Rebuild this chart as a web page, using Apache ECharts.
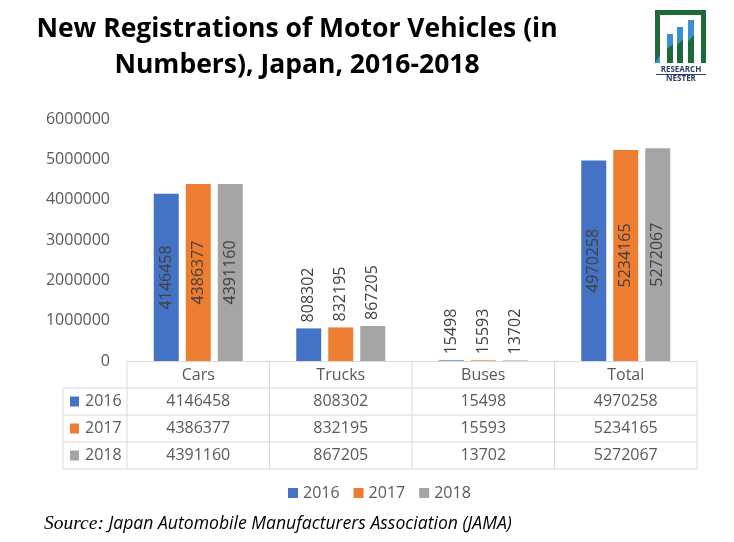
<!DOCTYPE html>
<html><head><meta charset="utf-8">
<script src="https://cdn.jsdelivr.net/npm/echarts@6/dist/echarts.min.js"></script>
<style>html,body{margin:0;padding:0;background:#fff}#c{width:734px;height:542px}</style>
</head><body><div id="c"></div>
<script>
// ---- data ----
const categories = ['Cars', 'Trucks', 'Buses', 'Total'];
const years = ['2016', '2017', '2018'];
const v2016 = [4146458, 808302, 15498, 4970258];
const v2017 = [4386377, 832195, 15593, 5234165];
const v2018 = [4391160, 867205, 13702, 5272067];
const yearValues = [v2016, v2017, v2018];
const yMin = 0, yMax = 6000000, yStep = 1000000;
const titleLines = ['New Registrations of Motor Vehicles (in', 'Numbers), Japan, 2016-2018'];
const sourceLabel = 'Source:';
const sourceText = ' Japan Automobile Manufacturers Association (JAMA)';
const logoTop = 'RESEARCH', logoBottom = 'NESTER';

// ---- style ----
const colors = ['#4472C4', '#ED7D31', '#A5A5A5'];
const FONT = "'Open Sans', 'Liberation Sans', sans-serif";
const TXT = '#595959';
const LINE = '#d9d9d9';
const insideCats = [0, 3];

const chart = echarts.init(document.getElementById('c'), null, { renderer: 'canvas' });

const option = {
  animation: false,
  backgroundColor: '#fff',
  grid: { left: 127, right: 37, top: 119, bottom: 181, containLabel: false },
  legend: {
    data: years, left: 283, top: 480, icon: 'rect', itemWidth: 10, itemHeight: 10, itemGap: 14,
    textStyle: { color: TXT, fontSize: 16, fontFamily: FONT }
  },
  xAxis: {
    type: 'category', data: categories,
    axisLine: { show: true, lineStyle: { color: LINE, width: 1 } },
    axisTick: { show: false },
    axisLabel: { color: TXT, fontSize: 16, fontFamily: FONT, margin: 6 }
  },
  yAxis: {
    type: 'value', min: yMin, max: yMax, interval: yStep,
    axisLine: { show: false }, axisTick: { show: false }, splitLine: { show: false },
    axisLabel: { color: TXT, fontSize: 16, fontFamily: FONT, margin: 17, formatter: v => String(v) }
  },
  series: years.map((y, i) => ({
    name: y, type: 'bar', barWidth: 25, barGap: '28%',
    itemStyle: { color: colors[i] },
    label: { show: true, rotate: 90, position: 'inside', color: '#404040', fontSize: 16, fontFamily: FONT },
    data: yearValues[i].map((v, j) => insideCats.includes(j) ? v : {
      value: v, label: { position: 'top', align: 'left', verticalAlign: 'middle', distance: 6 }
    })
  }))
};
chart.setOption(option);

// ---- table, title, logo, source ----
const cx = categories.map(c => chart.convertToPixel({ xAxisIndex: 0 }, c));
const half = (cx[1] - cx[0]) / 2;
const y0 = chart.convertToPixel({ yAxisIndex: 0 }, 0);
const rowH = 27;
const tLeft = 63;
const tRight = cx[cx.length - 1] + half;
const g = [];
const line = (x1, y1, x2, y2) => g.push({ type: 'line', silent: true, shape: { x1, y1, x2, y2 }, style: { stroke: LINE, lineWidth: 1 } });
for (let r = 1; r <= years.length + 1; r++) line(tLeft, y0 + r * rowH, tRight, y0 + r * rowH);
const bottomY = y0 + (years.length + 1) * rowH;
line(tLeft, y0 + rowH, tLeft, bottomY);
for (let k = 0; k <= categories.length; k++) {
  const x = cx[0] - half + k * 2 * half;
  line(x, y0, x, bottomY);
}
years.forEach((y, i) => {
  const cy = y0 + (i + 1.5) * rowH;
  g.push({ type: 'rect', silent: true, shape: { x: tLeft + 7, y: cy - 5, width: 9, height: 10 }, style: { fill: colors[i] } });
  g.push({ type: 'text', silent: true, x: tLeft + 22, y: cy, style: { text: y, fill: TXT, fontSize: 16, fontFamily: FONT, align: 'left', verticalAlign: 'middle' } });
  yearValues[i].forEach((v, j) => {
    g.push({ type: 'text', silent: true, x: cx[j], y: cy, style: { text: String(v), fill: TXT, fontSize: 16, fontFamily: FONT, align: 'center', verticalAlign: 'middle' } });
  });
});
// title
g.push({ type: 'text', silent: true, x: 297, y: 11, style: {
  text: titleLines.join('\n'), fill: '#000', fontSize: 26.5, fontWeight: 'bold', fontFamily: FONT,
  lineHeight: 36, align: 'center', verticalAlign: 'top' } });
// source
g.push({ type: 'text', silent: true, x: 44, y: 524, style: {
  text: '{a|' + sourceLabel + '}{b|' + sourceText + '}', verticalAlign: 'middle', align: 'left',
  rich: {
    a: { fontFamily: "'Liberation Serif', serif", fontStyle: 'italic', fontSize: 19.5, fill: '#000' },
    b: { fontFamily: FONT, fontStyle: 'italic', fontSize: 17.6, fill: '#000' }
  } } });
// logo
const green = '#1d6b38', blue = '#3b8fd4';
g.push({ type: 'rect', silent: true, shape: { x: 655, y: 10, width: 51, height: 5 }, style: { fill: green } });
g.push({ type: 'rect', silent: true, shape: { x: 655, y: 10, width: 5, height: 53 }, style: { fill: green } });
g.push({ type: 'polygon', silent: true, shape: { points: [[655, 63], [660, 55], [660, 63]] }, style: { fill: blue } });
g.push({ type: 'rect', silent: true, shape: { x: 701, y: 10, width: 5, height: 53 }, style: { fill: green } });
[[667, 34], [677, 27], [688, 20]].forEach(([x, t]) => {
  g.push({ type: 'rect', silent: true, shape: { x, y: t, width: 6, height: 63 - t }, style: { fill: green } });
  g.push({ type: 'polygon', silent: true, shape: { points: [[x, t], [x + 6, t], [x + 6, t + (63 - t) * 0.35], [x, t + (63 - t) * 0.5]] }, style: { fill: blue } });
});
g.push({ type: 'text', silent: true, x: 681, y: 70, style: { text: logoTop, fill: '#2e3f6e', fontSize: 8, fontWeight: 'bold', fontFamily: FONT, align: 'center', verticalAlign: 'middle' } });
g.push({ type: 'line', silent: true, shape: { x1: 656, y1: 74.5, x2: 706, y2: 74.5 }, style: { stroke: '#2e3f6e', lineWidth: 1 } });
g.push({ type: 'text', silent: true, x: 681, y: 79, style: { text: logoBottom, fill: '#2e3f6e', fontSize: 8, fontWeight: 'bold', fontFamily: FONT, align: 'center', verticalAlign: 'middle' } });

chart.setOption({ graphic: { elements: g } });
</script></body></html>
